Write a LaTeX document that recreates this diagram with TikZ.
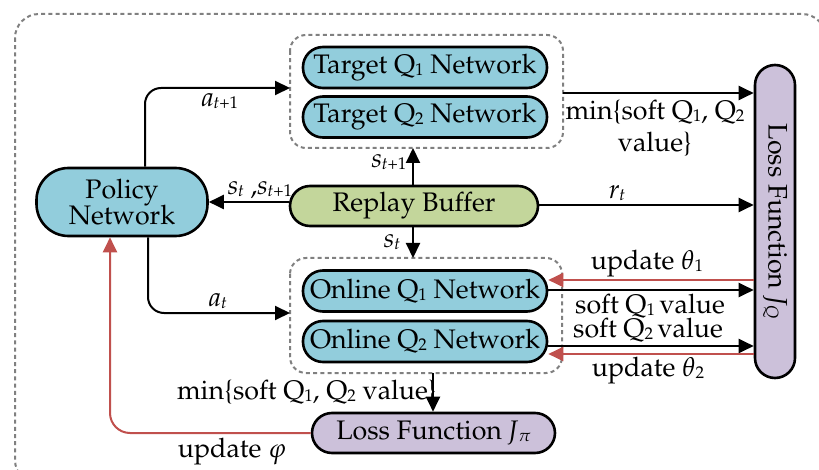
\documentclass[tikz,border=0pt]{standalone}
\usepackage[T1]{fontenc}
\usepackage{mathpazo}
\usetikzlibrary{arrows.meta,calc}
\definecolor{qblue}{HTML}{92CDDC}
\definecolor{rgreen}{HTML}{C3D69B}
\definecolor{lpurple}{HTML}{CCC1DA}
\definecolor{ured}{HTML}{C0504D}
\definecolor{dgray}{HTML}{808080}
\newcommand{\lsub}[1]{\raisebox{-1pt}{\fontsize{8.5}{9}\selectfont #1}}
\tikzset{
  box/.style={draw=black, line width=1.3pt, rounded corners=10pt, inner sep=0pt, font=\fontsize{13.4}{15}\selectfont},
  qnet/.style={box, fill=qblue, minimum width=122pt, minimum height=20.5pt},
  grp/.style={draw=dgray, line width=1pt, dash pattern=on 2pt off 1.6pt, rounded corners=8pt},
  arr/.style={line width=1pt, -{Triangle[length=7.5pt,width=7pt]}},
  rarr/.style={arr, draw=ured, -{Triangle[length=7.5pt,width=7pt,fill=ured]}, color=ured},
  lbl/.style={font=\fontsize{13.4}{15}\selectfont, inner sep=0pt},
}
\begin{document}
\begin{tikzpicture}[x=0.5pt, y=-0.5pt]
\useasboundingbox (0,0) rectangle (819,470);
% outer frame
\draw[grp, rounded corners=12pt] (15,14) rectangle (826,484);
% target group
\node[qnet] (tq1) at (425,67.5) {Target Q\lsub{1} Network};
\node[qnet] (tq2) at (425,117) {Target Q\lsub{2} Network};
\draw[grp] (290,35) rectangle (563,148);
\coordinate (tboxW) at (290,88);
\coordinate (tboxS) at (413,148);
\coordinate (tboxE) at (563,93);
% online group
\node[qnet] (oq1) at (425,291) {Online Q\lsub{1} Network};
\node[qnet] (oq2) at (425,341.5) {Online Q\lsub{2} Network};
\draw[grp] (290,258) rectangle (562,373);
\coordinate (oboxW) at (290,313);
\coordinate (oboxN) at (413,258);
\coordinate (oboxS) at (433,373);
% other nodes
\node[box, fill=qblue, minimum width=85.5pt, minimum height=34pt, rounded corners=16pt, align=center] (policy) at (122,202) {Policy\\[-2pt]Network};
\node[box, fill=rgreen, minimum width=124pt, minimum height=20pt] (replay) at (414,206) {Replay Buffer};
\node[box, fill=lpurple, minimum width=20pt, minimum height=156.5pt, rounded corners=10pt] (lossq) at (775,221.5) {};
\node[lbl, rotate=-90] at (lossq.center) {Loss Function \textit{J}\lsub{\textit{Q}}};
\node[box, fill=lpurple, minimum width=121.5pt, minimum height=20pt] (losspi) at (433.5,433) {Loss Function \textit{J}\lsub{$\pi$}};
% connectors
\draw[arr, rounded corners=8pt] ($(policy.north)+(23,0)$) |- (tboxW);
\node[lbl] at (220,101) {\textit{a}\lsub{\textit{t}+1}};
\draw[arr] (replay.west |- 0,202) -- (policy.east |- 0,202);
\node[lbl] at (260,190) {\textit{s}\lsub{\textit{t}} ,\textit{s}\lsub{\textit{t}+1}};
\draw[arr] (replay.north -| tboxS) -- (tboxS);
\node[lbl] at (389,162) {\textit{s}\lsub{\textit{t}+1}};
\draw[arr] (replay.south -| oboxN) -- (oboxN);
\node[lbl] at (392,242) {\textit{s}\lsub{\textit{t}}};
\draw[arr] (tboxE) -- (lossq.west |- tboxE);
\node[lbl, align=center] at (655,128) {min\{soft Q\lsub{1}, Q\lsub{2}\\[1pt]value\}};
\draw[arr] (replay.east |- 0,205) -- (lossq.west |- 0,205);
\node[lbl] at (617,193) {\textit{r}\lsub{\textit{t}}};
% online to loss
\draw[rarr] (lossq.west |- 0,280) -- (oq1.east |- 0,280);
\node[lbl] at (647,264) {update $\theta$\lsub{1}};
\draw[arr] (oq1.east |- 0,290) -- (lossq.west |- 0,290);
\node[lbl] at (650,306) {soft Q\lsub{1}\,value};
\draw[arr] (oq2.east |- 0,346) -- (lossq.west |- 0,346);
\node[lbl] at (648,330) {soft Q\lsub{2}\,value};
\draw[rarr] (lossq.west |- 0,354) -- (oq2.east |- 0,354);
\node[lbl] at (648,371) {update $\theta$\lsub{2}};
% to loss pi
\draw[arr] (oboxS) -- (losspi.north -| oboxS);
\node[lbl] at (307,392) {min\{soft Q\lsub{1}, Q\lsub{2} value\}};
\draw[rarr, rounded corners=10pt] (losspi.west) -| ($(policy.south)+(-12,0)$);
\node[lbl] at (232,452) {update $\varphi$};
\draw[arr, rounded corners=8pt] ($(policy.south)+(26,0)$) |- (oboxW);
\node[lbl] at (218,301) {\textit{a}\lsub{\textit{t}}};
\end{tikzpicture}
\end{document}
